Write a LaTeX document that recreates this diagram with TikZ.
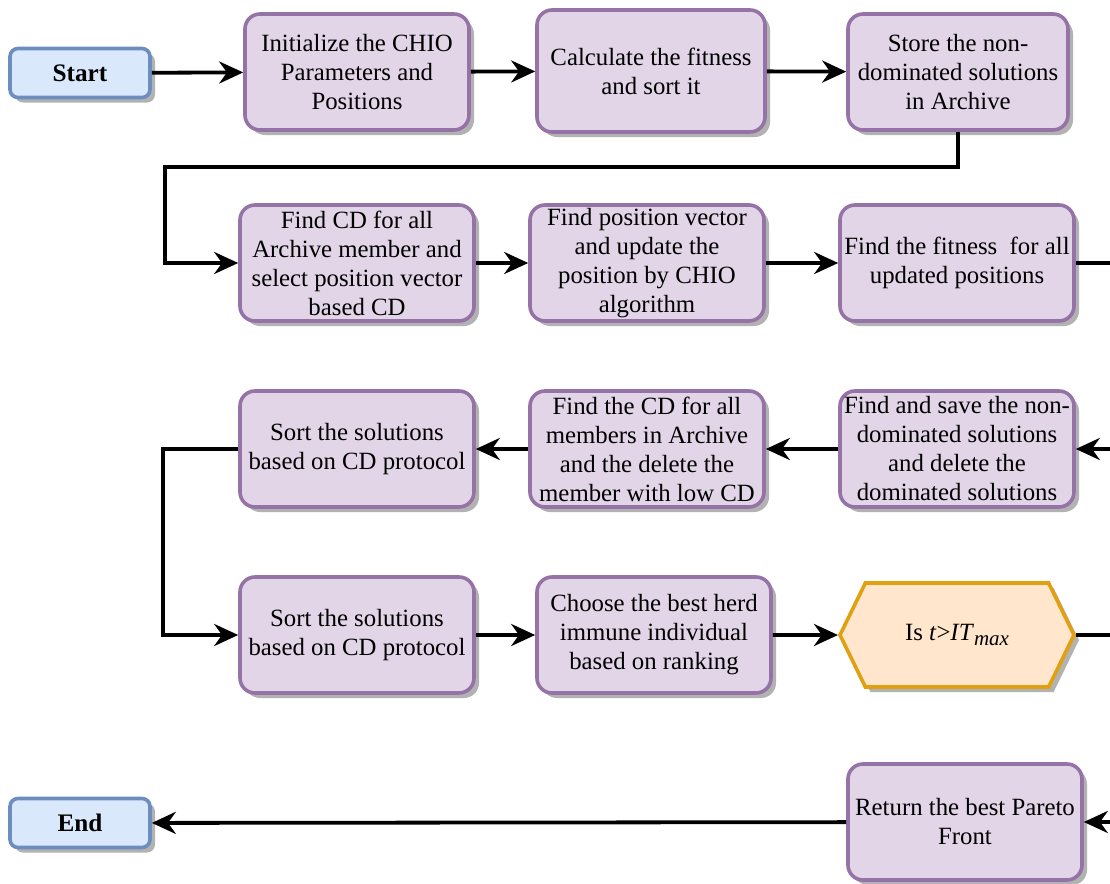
\documentclass[tikz,border=0pt]{standalone}
\usepackage{fontspec}
\setmainfont{Liberation Serif}
\usetikzlibrary{shapes.symbols, arrows.meta, positioning, shadows}

\definecolor{procfill}{HTML}{E1D5E7}
\definecolor{procdraw}{HTML}{9673A6}
\definecolor{termfill}{HTML}{DAE8FC}
\definecolor{termdraw}{HTML}{6C8EBF}
\definecolor{decfill}{HTML}{FFE6CC}
\definecolor{decdraw}{HTML}{E0A010}

\tikzset{
  boxshadow/.style={drop shadow={shadow xshift=2.5pt, shadow yshift=-2.5pt, fill=black!30, opacity=1}},
  proc/.style={draw=procdraw, fill=procfill, line width=1.8pt, rounded corners=7.5pt,
    minimum width=117pt, minimum height=58pt, align=center, inner sep=1pt,
    font=\fontsize{12.4}{14.5}\selectfont, boxshadow},
  term/.style={draw=termdraw, fill=termfill, line width=1.8pt, rounded corners=4pt,
    minimum width=70pt, minimum height=24.5pt, font=\fontsize{12.6}{14.5}\selectfont\bfseries, boxshadow},
  decide/.style={shape=signal, signal to=east and west, signal pointer angle=128,
    draw=decdraw, fill=decfill, line width=1.8pt, minimum width=117pt, minimum height=52pt,
    font=\fontsize{12.4}{14.5}\selectfont, boxshadow},
  flow/.style={line width=1.9pt, -{Stealth[length=12pt, width=11pt]}},
  line/.style={line width=1.9pt},
}

\begin{document}
\begin{tikzpicture}[x=0.5pt, y=-0.5pt]
\useasboundingbox (0,0) rectangle (1110,884);

% Row 1
\node[term] (start) at (80,73) {Start};
\node[proc, minimum width=112pt] (init) at (357,72) {Initialize the CHIO\\Parameters and\\Positions};
\node[proc, minimum width=114pt, minimum height=61pt] (fit) at (651,71) {Calculate the fitness\\and sort it};
\node[proc, minimum width=110pt] (store) at (958,72) {Store the non-\\dominated solutions\\in Archive};

% Row 2
\node[proc] (findcd) at (357,263) {Find CD for all\\Archive member and\\select position vector\\based CD};
\node[proc] (update) at (647,263) {Find position vector\\and update the\\position by CHIO\\algorithm};
\node[proc] (newfit) at (957,263) {Find the fitness\ \ for all\\updated positions};

% Row 3
\node[proc] (save) at (957,449) {Find and save the non-\\dominated solutions\\and delete the\\dominated solutions};
\node[proc] (delcd) at (647,449) {Find the CD for all\\members in Archive\\and the delete the\\member with low CD};
\node[proc] (sorta) at (357,449) {Sort the solutions\\based on CD protocol};

% Row 4
\node[proc] (sortb) at (357,635) {Sort the solutions\\based on CD protocol};
\node[proc] (best) at (654,635) {Choose the best herd\\immune individual\\based on ranking};
\node[decide] (test) at (957,635) {Is \textit{t}>\textit{IT}\raisebox{-0.4ex}{\fontsize{10.5}{12}\selectfont\textit{max}}};

% Row 5
\node[proc] (ret) at (965,822) {Return the best Pareto\\Front};
\node[term] (end) at (80,823) {End};

% loop ends at the right border
\coordinate (r1) at (1110,263);
\coordinate (r2) at (1110,449);
\coordinate (r3) at (1110,635);
\coordinate (r4) at (1110,822);

% Connectors
\draw[flow] (start) -- (init);
\draw[flow] (init) -- (fit);
\draw[flow] (fit) -- (store);
\draw[flow] (store.south) |- (165,167) |- (findcd.west);
\draw[flow] (findcd) -- (update);
\draw[flow] (update) -- (newfit);
\draw[line] (newfit.east) -- (r1);
\draw[flow] (r2) -- (save.east);
\draw[flow] (save) -- (delcd);
\draw[flow] (delcd) -- (sorta);
\draw[flow] (sorta.west) -- ++(-75,0) |- (sortb.west);
\draw[flow] (sortb) -- (best);
\draw[flow] (best) -- (test);
\draw[line] (test.east) -- (r3);
\draw[flow] (r4) -- (ret.east);
\draw[flow] (ret) -- (end);
\end{tikzpicture}
\end{document}
